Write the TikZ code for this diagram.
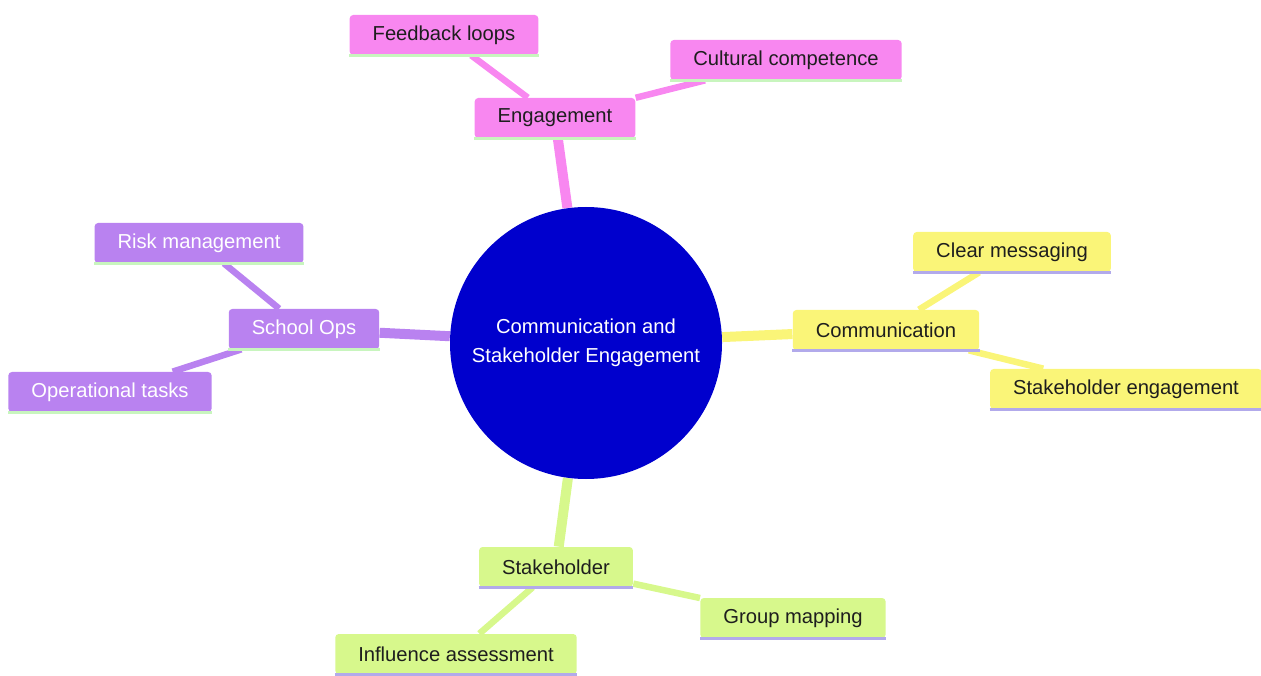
\documentclass[tikz,border=0pt]{standalone}
\usepackage{fontspec}
\setmainfont{Liberation Sans}
\usetikzlibrary{calc, positioning}

\definecolor{mmblue}{RGB}{0,0,205}
\definecolor{mmpink}{RGB}{248,135,240}
\definecolor{mmyellow}{RGB}{250,245,120}
\definecolor{mmpurple}{RGB}{185,130,240}
\definecolor{mmgreen}{RGB}{215,248,140}
\definecolor{lnpink}{RGB}{200,245,190}
\definecolor{lnyellow}{RGB}{178,170,235}
\definecolor{txtdark}{RGB}{30,30,30}

\pgfdeclarelayer{background}
\pgfsetlayers{background,main}

\begin{document}
\begin{tikzpicture}[
    root/.style={
        circle,
        fill=mmblue,
        minimum size=5.44cm,
        text=white,
        font=\fontsize{11.5}{16.5}\selectfont,
        align=center
    },
    topic/.style={
        rectangle,
        rounded corners=2pt,
        fill=#1,
        minimum height=0.8cm,
        inner xsep=0.46cm,
        text=txtdark,
        font=\fontsize{11.5}{14}\selectfont
    },
    underline/.style={
        append after command={
            (\tikzlastnode.south west) edge[draw=#1, line width=1.6pt]
            (\tikzlastnode.south east)
        }
    },
    mainedge/.style={line width=0.2cm, draw=#1},
    subedge/.style={line width=0.13cm, draw=#1}
]
\useasboundingbox (0,0) rectangle (25.22,13.5);

% Root
\node[root] (root) at (11.72,6.64) {Communication and\\Stakeholder Engagement};

% Engagement branch
\node[topic=mmpink, underline=lnpink] (eng) at ($(root)+(-0.62,4.50)$) {Engagement};
\node[topic=mmpink, underline=lnpink] (feedback) at ($(eng)+(-2.22,1.66)$) {Feedback loops};
\node[topic=mmpink, underline=lnpink] (cultural) at ($(eng)+(4.62,1.16)$) {Cultural competence};

% Communication branch
\node[topic=mmyellow, underline=lnyellow] (comm) at ($(root)+(6.00,0.26)$) {Communication};
\node[topic=mmyellow, underline=lnyellow] (clear) at ($(comm)+(2.52,1.56)$) {Clear messaging};
\node[topic=mmyellow, underline=lnyellow] (stakeeng) at ($(comm)+(4.80,-1.18)$) {Stakeholder engagement};

% School Ops branch
\node[topic=mmpurple, underline=lnpink, text=white] (ops) at ($(root)+(-5.64,0.28)$) {School Ops};
\node[topic=mmpurple, underline=lnpink, text=white] (risk) at ($(ops)+(-2.10,1.72)$) {Risk management};
\node[topic=mmpurple, underline=lnpink, text=white] (optasks) at ($(ops)+(-3.88,-1.26)$) {Operational tasks};

% Stakeholder branch
\node[topic=mmgreen, underline=lnyellow] (stake) at ($(root)+(-0.60,-4.48)$) {Stakeholder};
\node[topic=mmgreen, underline=lnyellow] (group) at ($(stake)+(4.74,-1.02)$) {Group mapping};
\node[topic=mmgreen, underline=lnyellow] (influence) at ($(stake)+(-2.00,-1.74)$) {Influence assessment};

% Connectors behind the nodes
\begin{pgfonlayer}{background}
\draw[mainedge=mmpink] (root) -- (eng);
\draw[subedge=mmpink] (eng) -- (feedback);
\draw[subedge=mmpink] (eng) -- (cultural);

\draw[mainedge=mmyellow] (root) -- (comm);
\draw[subedge=mmyellow] (comm) -- (clear);
\draw[subedge=mmyellow] (comm) -- (stakeeng);

\draw[mainedge=mmpurple] (root) -- (ops);
\draw[subedge=mmpurple] (ops) -- (risk);
\draw[subedge=mmpurple] (ops) -- (optasks);

\draw[mainedge=mmgreen] (root) -- (stake);
\draw[subedge=mmgreen] (stake) -- (group);
\draw[subedge=mmgreen] (stake) -- (influence);
\end{pgfonlayer}
\end{tikzpicture}
\end{document}
